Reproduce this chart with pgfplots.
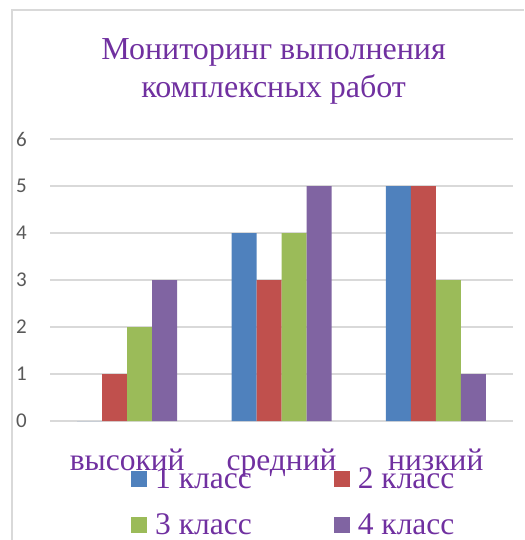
\documentclass[border=0pt]{standalone}
\usepackage{fontspec}
\setmainfont{Liberation Serif}
\newfontfamily\calibri{Carlito}
\usepackage{pgfplots}
\pgfplotsset{compat=1.18}
\definecolor{c1}{HTML}{4F81BD}
\definecolor{c2}{HTML}{C0504D}
\definecolor{c3}{HTML}{9BBB59}
\definecolor{c4}{HTML}{8064A2}
\definecolor{ttl}{HTML}{7030A0}
\definecolor{gridc}{HTML}{D9D9D9}
\definecolor{tickc}{HTML}{595959}
\begin{document}
\begin{tikzpicture}
\begin{axis}[
  scale only axis, width=463pt, height=282pt,
  xmin=-0.5, xmax=2.5, ymin=0, ymax=6,
  ybar=0pt, bar width=25pt,
  xtick={0,1,2}, xticklabels={высокий,средний,низкий},
  ytick={0,1,2,3,4,5,6},
  /pgf/number format/assume math mode=true,
  axis line style={draw=none},
  major tick length=0pt,
  ymajorgrids, grid style={color=gridc, line width=1.3pt},
  xticklabel style={font=\fontsize{31.5}{34}\selectfont, text=ttl, anchor=base, yshift=-49pt},
  yticklabel style={font=\calibri\fontsize{21}{24}\selectfont, text=tickc, anchor=east, xshift=-19.7pt},
  title={Мониторинг выполнения\\комплексных работ},
  title style={align=center, font=\fontsize{32}{38}\selectfont, text=ttl, at={(axis description cs:0.483,1.22)}, anchor=center},
  legend columns=2,
  legend image code/.code={\fill[#1] (0pt,-8pt) rectangle (16pt,8pt); \path (22pt,0pt);},
  legend style={at={(axis description cs:0.175,-0.159)}, anchor=north west, draw=none, fill=none,
    font=\fontsize{31.5}{34}\selectfont, text=ttl, inner sep=0pt,
    /tikz/every even column/.append style={column sep=80pt},
    /tikz/row sep=19pt},
  legend cell align=left,
]
\addplot[fill=c1, draw=none] coordinates {(0,0) (1,4) (2,5)};
\addplot[fill=c2, draw=none] coordinates {(0,1) (1,3) (2,5)};
\addplot[fill=c3, draw=none] coordinates {(0,2) (1,4) (2,3)};
\addplot[fill=c4, draw=none] coordinates {(0,3) (1,5) (2,1)};
\legend{1 класс,2 класс,3 класс,4 класс}
\coordinate (O) at (rel axis cs:0,0);
\end{axis}
\draw[color=gridc, line width=1.3pt] ([shift={(-38pt,-119pt)}]O) -- ([shift={(-38pt,411pt)}]O) -- ([shift={(474pt,411pt)}]O);
\pgfresetboundingbox
\path[use as bounding box] ([shift={(-50pt,421pt)}]O) rectangle ([shift={(474pt,-119pt)}]O);
\end{tikzpicture}
\end{document}
